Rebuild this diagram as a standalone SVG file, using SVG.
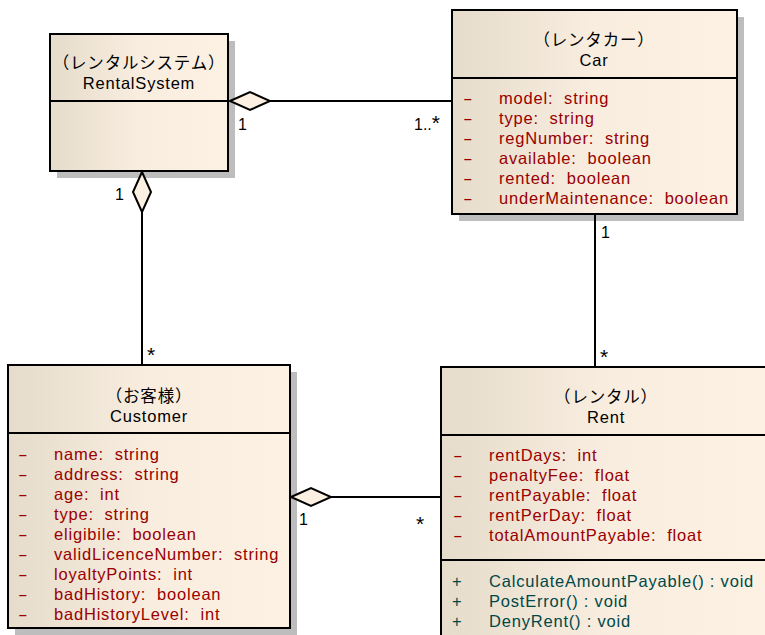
<svg xmlns="http://www.w3.org/2000/svg" width="765" height="635" viewBox="0 0 765 635">
<style>
text{font-family:"Liberation Sans","Noto Sans CJK JP",sans-serif;font-size:16.5px;white-space:pre}
.t{text-anchor:middle;fill:#000;letter-spacing:0.8px}
.a{fill:#990000;letter-spacing:0.8px}
.o{fill:#004848;letter-spacing:0.8px}
.m{fill:#000;font-size:16px}
.s{font-size:21px}
.box{fill:url(#g);stroke:#000;stroke-width:2}
.sh{fill:#bdbdbd}
.div{stroke:#000;stroke-width:2}
.ln{stroke:#000;stroke-width:2;fill:none}
.dia{fill:#fbf0e2;stroke:#000;stroke-width:2}
</style>
<defs>
<linearGradient id="g" x1="0" y1="0" x2="1" y2="0">
<stop offset="0" stop-color="#e6dccb"/>
<stop offset="0.5" stop-color="#f8eddf"/>
<stop offset="1" stop-color="#fcf1e3"/>
</linearGradient>
</defs>
<g id="RentalSystem">
<rect class="sh" x="57" y="41" width="178" height="137"/>
<rect class="box" x="50" y="34" width="178" height="137"/>
<line class="div" x1="50" y1="101" x2="228" y2="101"/>
<text class="t" x="139" y="69">（レンタルシステム）</text>
<text class="t" x="139" y="89">RentalSystem</text>
</g>
<g id="Car">
<rect class="sh" x="459" y="17" width="285" height="204"/>
<rect class="box" x="452" y="10" width="285" height="204"/>
<line class="div" x1="452" y1="78" x2="737" y2="78"/>
<text class="t" x="594" y="46">（レンタカー）</text>
<text class="t" x="594" y="66">Car</text>
<text class="a" x="463" y="104" textLength="11" lengthAdjust="spacingAndGlyphs">-</text><text class="a" x="499" y="104">model:  string</text>
<text class="a" x="463" y="124" textLength="11" lengthAdjust="spacingAndGlyphs">-</text><text class="a" x="499" y="124">type:  string</text>
<text class="a" x="463" y="144" textLength="11" lengthAdjust="spacingAndGlyphs">-</text><text class="a" x="499" y="144">regNumber:  string</text>
<text class="a" x="463" y="164" textLength="11" lengthAdjust="spacingAndGlyphs">-</text><text class="a" x="499" y="164">available:  boolean</text>
<text class="a" x="463" y="184" textLength="11" lengthAdjust="spacingAndGlyphs">-</text><text class="a" x="499" y="184">rented:  boolean</text>
<text class="a" x="463" y="204" textLength="11" lengthAdjust="spacingAndGlyphs">-</text><text class="a" x="499" y="204">underMaintenance:  boolean</text>
</g>
<g id="Customer">
<rect class="sh" x="15" y="372" width="282" height="263"/>
<rect class="box" x="8" y="365" width="282" height="263"/>
<line class="div" x1="8" y1="433" x2="290" y2="433"/>
<text class="t" x="149" y="402">（お客様）</text>
<text class="t" x="149" y="422">Customer</text>
<text class="a" x="18" y="460" textLength="11" lengthAdjust="spacingAndGlyphs">-</text><text class="a" x="54" y="460">name:  string</text>
<text class="a" x="18" y="480" textLength="11" lengthAdjust="spacingAndGlyphs">-</text><text class="a" x="54" y="480">address:  string</text>
<text class="a" x="18" y="500" textLength="11" lengthAdjust="spacingAndGlyphs">-</text><text class="a" x="54" y="500">age:  int</text>
<text class="a" x="18" y="520" textLength="11" lengthAdjust="spacingAndGlyphs">-</text><text class="a" x="54" y="520">type:  string</text>
<text class="a" x="18" y="540" textLength="11" lengthAdjust="spacingAndGlyphs">-</text><text class="a" x="54" y="540">eligibile:  boolean</text>
<text class="a" x="18" y="560" textLength="11" lengthAdjust="spacingAndGlyphs">-</text><text class="a" x="54" y="560">validLicenceNumber:  string</text>
<text class="a" x="18" y="580" textLength="11" lengthAdjust="spacingAndGlyphs">-</text><text class="a" x="54" y="580">loyaltyPoints:  int</text>
<text class="a" x="18" y="600" textLength="11" lengthAdjust="spacingAndGlyphs">-</text><text class="a" x="54" y="600">badHistory:  boolean</text>
<text class="a" x="18" y="620" textLength="11" lengthAdjust="spacingAndGlyphs">-</text><text class="a" x="54" y="620">badHistoryLevel:  int</text>
</g>
<g id="Rent">
<rect class="box" x="441" y="367" width="332" height="280"/>
<line class="div" x1="441" y1="435" x2="773" y2="435"/>
<line class="div" x1="441" y1="560" x2="773" y2="560"/>
<text class="t" x="606" y="403">（レンタル）</text>
<text class="t" x="606" y="423">Rent</text>
<text class="a" x="453" y="461" textLength="11" lengthAdjust="spacingAndGlyphs">-</text><text class="a" x="489" y="461">rentDays:  int</text>
<text class="a" x="453" y="481" textLength="11" lengthAdjust="spacingAndGlyphs">-</text><text class="a" x="489" y="481">penaltyFee:  float</text>
<text class="a" x="453" y="501" textLength="11" lengthAdjust="spacingAndGlyphs">-</text><text class="a" x="489" y="501">rentPayable:  float</text>
<text class="a" x="453" y="521" textLength="11" lengthAdjust="spacingAndGlyphs">-</text><text class="a" x="489" y="521">rentPerDay:  float</text>
<text class="a" x="453" y="541" textLength="11" lengthAdjust="spacingAndGlyphs">-</text><text class="a" x="489" y="541">totalAmountPayable:  float</text>
<text class="o" x="452" y="587">+</text><text class="o" x="489" y="587">CalculateAmountPayable() : void</text>
<text class="o" x="452" y="607">+</text><text class="o" x="489" y="607">PostError() : void</text>
<text class="o" x="452" y="627">+</text><text class="o" x="489" y="627">DenyRent() : void</text>
</g>
<g id="connectors">
<line class="ln" x1="270" y1="101" x2="452" y2="101"/>
<polygon class="dia" points="230,101 250,92 270,101 250,110"/>
<text class="m" x="238" y="130">1</text>
<text class="m" x="414" y="130">1..<tspan class="s">*</tspan></text>
<line class="ln" x1="142" y1="212" x2="142" y2="365"/>
<polygon class="dia" points="142,172 151,192 142,212 133,192"/>
<text class="m" x="115" y="200">1</text>
<text class="m s" x="147" y="362">*</text>
<line class="ln" x1="595" y1="214" x2="595" y2="367"/>
<text class="m" x="601" y="238">1</text>
<text class="m s" x="600" y="364">*</text>
<line class="ln" x1="331" y1="497" x2="441" y2="497"/>
<polygon class="dia" points="291,497 311,488 331,497 311,506"/>
<text class="m" x="299" y="525">1</text>
<text class="m s" x="416" y="531">*</text>
</g>
</svg>
